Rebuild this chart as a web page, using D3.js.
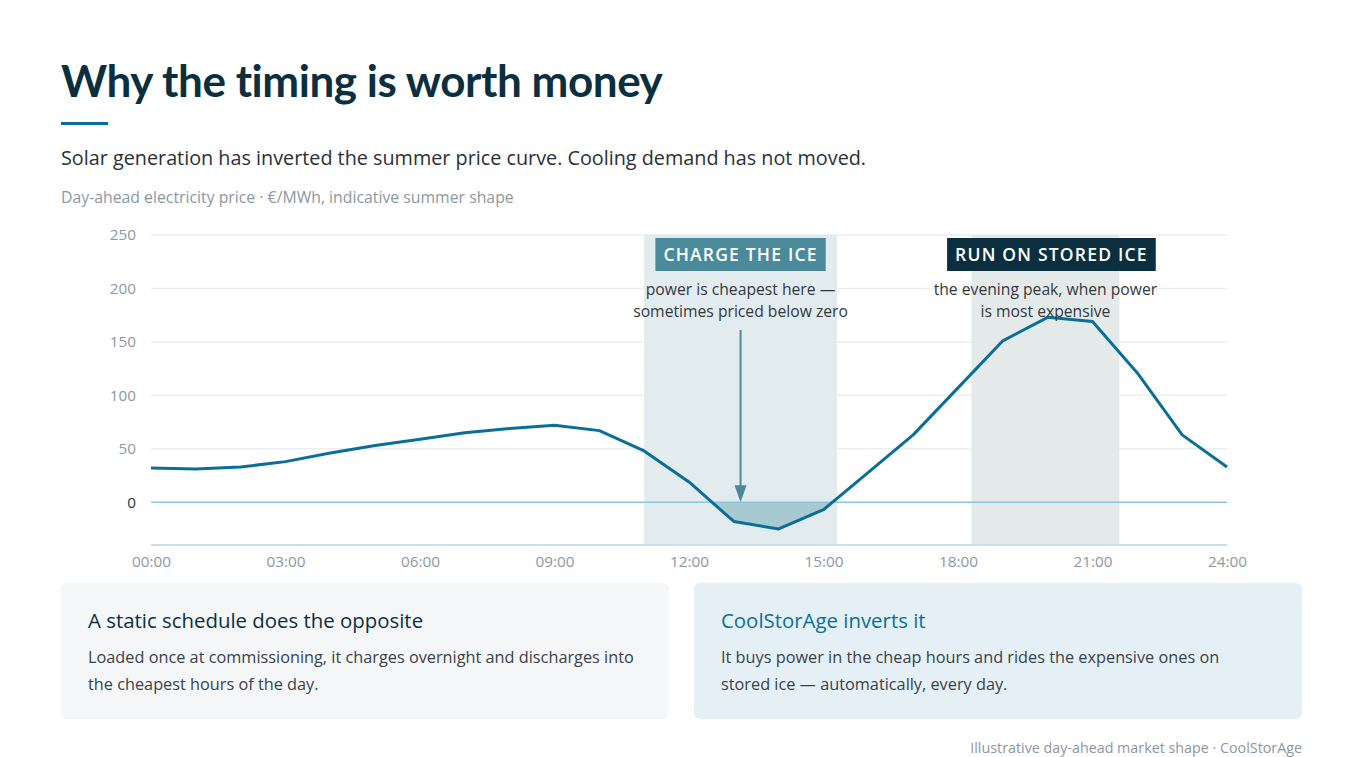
<!DOCTYPE html>
<html>
<head>
<meta charset="utf-8">
<script src="https://cdn.jsdelivr.net/npm/d3@7"></script>
<style>
  html, body { margin: 0; padding: 0; background: #fff; }
  svg { display: block; font-family: "Open Sans", "Noto Sans", sans-serif; }
</style>
</head>
<body>
<svg id="chart" width="1363" height="757"></svg>
<script>
// Data
const hours = [0, 1, 2, 3, 4, 5, 6, 7, 8, 9, 10, 11, 12, 13, 14, 15, 16, 17, 18, 19, 20, 21, 22, 23, 24];
const prices = [32, 31, 33, 38, 46, 53, 59, 65, 69, 72, 67, 48, 19, -18, -25, -7, 28, 63, 107, 151, 173, 169, 121, 63, 33];
const yTicks = [0, 50, 100, 150, 200, 250];
const xTicks = [0, 3, 6, 9, 12, 15, 18, 21, 24];
const chargeWindow = [11, 15.3];
const runWindow = [18.3, 21.6];

const data = hours.map((h, i) => ({hour: h, price: prices[i]}));

const svg = d3.select("#chart");
const FONT = "'Open Sans', 'Noto Sans', sans-serif";

const x = d3.scaleLinear().domain([0, 24]).range([151, 1227]);
const y = d3.scaleLinear().domain([-40, 250]).range([545, 235]);

// Header
svg.append("text")
  .attr("x", 61).attr("y", 97)
  .attr("fill", "#0c2f3f")
  .style("font-family", "Lato, sans-serif")
  .style("font-size", "44px")
  .style("font-weight", 700)
  .style("letter-spacing", "-0.45px")
  .text("Why the timing is worth money");

svg.append("rect")
  .attr("x", 61).attr("y", 122).attr("width", 47).attr("height", 3)
  .attr("fill", "#0b6e99");

svg.append("text")
  .attr("x", 61).attr("y", 165)
  .attr("fill", "#2b3136")
  .style("font-size", "19.8px")
  .text("Solar generation has inverted the summer price curve. Cooling demand has not moved.");

svg.append("text")
  .attr("x", 61).attr("y", 203)
  .attr("fill", "#8d979f")
  .style("font-size", "15.8px")
  .text("Day-ahead electricity price · €/MWh, indicative summer shape");

// Gridlines
svg.append("g")
  .selectAll("line")
  .data(yTicks.filter((d) => d !== 0))
  .join("line")
  .attr("x1", x(0)).attr("x2", x(24))
  .attr("y1", (d) => y(d)).attr("y2", (d) => y(d))
  .attr("stroke", "#e9eef1")
  .attr("stroke-width", 1.5);

// Shaded windows
svg.append("rect")
  .attr("x", x(chargeWindow[0]))
  .attr("y", y(250))
  .attr("width", x(chargeWindow[1]) - x(chargeWindow[0]))
  .attr("height", y(-40) - y(250))
  .attr("fill", "#e2ebee");

svg.append("rect")
  .attr("x", x(runWindow[0]))
  .attr("y", y(250))
  .attr("width", x(runWindow[1]) - x(runWindow[0]))
  .attr("height", y(-40) - y(250))
  .attr("fill", "#e4eaea");

// Negative-price area (clipped below zero)
svg.append("clipPath").attr("id", "below-zero")
  .append("rect")
  .attr("x", x(0)).attr("y", y(0))
  .attr("width", x(24) - x(0)).attr("height", y(-40) - y(0));

svg.append("path")
  .datum(data)
  .attr("clip-path", "url(#below-zero)")
  .attr("fill", "#a9c9d0")
  .attr("d", d3.area().x((d) => x(d.hour)).y0(y(0)).y1((d) => y(d.price)));

// Zero line and bottom axis line
svg.append("line")
  .attr("x1", x(0)).attr("x2", x(24))
  .attr("y1", y(0)).attr("y2", y(0))
  .attr("stroke", "#8fc3dc").attr("stroke-width", 1.5);

svg.append("line")
  .attr("x1", x(0)).attr("x2", x(24))
  .attr("y1", y(-40)).attr("y2", y(-40))
  .attr("stroke", "#c6dfea").attr("stroke-width", 2);

// Y axis labels
svg.append("g")
  .attr("transform", `translate(${x(0) - 15},0)`)
  .call(d3.axisLeft(y).tickValues(yTicks).tickSize(0).tickPadding(0))
  .call((g) => g.select(".domain").remove())
  .call((g) => g.selectAll("text")
    .style("font-family", FONT)
    .style("font-size", "15.3px")
    .attr("fill", (d) => (d === 0 ? "#17394a" : "#8d979f")));

// X axis labels
const fmtHour = (h) => String(h).padStart(2, "0") + ":00";
svg.append("g")
  .attr("transform", `translate(0,${y(-40) + 11})`)
  .call(d3.axisBottom(x).tickValues(xTicks).tickSize(0).tickPadding(0).tickFormat(fmtHour))
  .call((g) => g.select(".domain").remove())
  .call((g) => g.selectAll("text")
    .style("font-family", FONT)
    .style("font-size", "15.3px")
    .attr("fill", "#8d979f"));

// Price line
svg.append("path")
  .datum(data)
  .attr("fill", "none")
  .attr("stroke", "#0b6e99")
  .attr("stroke-width", 3)
  .attr("stroke-linejoin", "round")
  .attr("d", d3.line().x((d) => x(d.hour)).y((d) => y(d.price)));

// Arrow into the dip
const chargeMid = (x(chargeWindow[0]) + x(chargeWindow[1])) / 2;
svg.append("line")
  .attr("x1", chargeMid).attr("x2", chargeMid)
  .attr("y1", 330).attr("y2", y(0) - 14)
  .attr("stroke", "#4a8a9a").attr("stroke-width", 2);
svg.append("path")
  .attr("d", `M${chargeMid - 6},${y(0) - 17} L${chargeMid + 6},${y(0) - 17} L${chargeMid},${y(0)} Z`)
  .attr("fill", "#4a8a9a");

// Window labels
function windowLabel(cx, boxShift, label, fill, lines) {
  const g = svg.append("g");
  const rect = g.append("rect").attr("fill", fill);
  const t = g.append("text")
    .attr("x", cx + boxShift).attr("y", 261)
    .attr("text-anchor", "middle")
    .attr("fill", "#fff")
    .style("font-size", "17.5px")
    .style("font-weight", 600)
    .style("letter-spacing", "1.2px")
    .text(label);
  const bb = t.node().getBBox();
  rect.attr("x", cx + boxShift - bb.width / 2 - 8).attr("y", 238)
    .attr("width", bb.width + 16).attr("height", 33);
  lines.forEach((l, i) => {
    g.append("text")
      .attr("x", cx).attr("y", 295 + i * 22)
      .attr("text-anchor", "middle")
      .attr("fill", "#33393d")
      .style("font-size", "15.7px")
      .text(l);
  });
}

windowLabel(chargeMid, 0, "CHARGE THE ICE", "#4a8a9a",
  ["power is cheapest here —", "sometimes priced below zero"]);
const runMid = (x(runWindow[0]) + x(runWindow[1])) / 2;
windowLabel(runMid, 6, "RUN ON STORED ICE", "#0c2f3f",
  ["the evening peak, when power", "is most expensive"]);

// Cards
const cards = [
  {x: 61, fill: "#f4f6f8", titleColor: "#0c2f3f", title: "A static schedule does the opposite",
    body: ["Loaded once at commissioning, it charges overnight and discharges into", "the cheapest hours of the day."]},
  {x: 694, fill: "#e5f0f6", titleColor: "#0b6e99", title: "CoolStorAge inverts it",
    body: ["It buys power in the cheap hours and rides the expensive ones on", "stored ice — automatically, every day."]},
];

cards.forEach((c) => {
  const g = svg.append("g").attr("transform", `translate(${c.x},583)`);
  g.append("rect").attr("width", 608).attr("height", 136).attr("rx", 6).attr("fill", c.fill);
  g.append("text").attr("x", 27).attr("y", 45)
    .attr("fill", c.titleColor)
    .style("font-size", "20.4px")
    .style("font-weight", 500)
    .text(c.title);
  c.body.forEach((l, i) => {
    g.append("text").attr("x", 27).attr("y", 80 + i * 27)
      .attr("fill", "#3a4248")
      .style("font-size", "16.3px")
      .text(l);
  });
});

// Footer
svg.append("text")
  .attr("x", 1302).attr("y", 753)
  .attr("text-anchor", "end")
  .attr("fill", "#8d979f")
  .style("font-size", "14.3px")
  .text("Illustrative day-ahead market shape · CoolStorAge");
</script>
</body>
</html>
